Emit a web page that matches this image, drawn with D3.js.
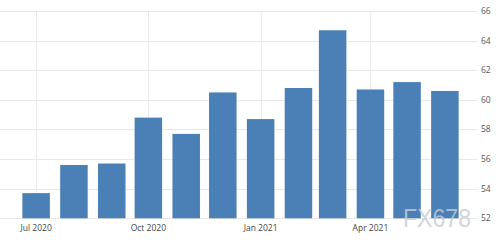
<!DOCTYPE html>
<html><head><meta charset="utf-8">
<script src="https://cdn.jsdelivr.net/npm/d3@7"></script>
<style>body{margin:0;background:#fff}svg{display:block}</style>
</head><body>
<svg id="c" width="500" height="250"></svg>
<script>
const months = ["2020-07","2020-08","2020-09","2020-10","2020-11","2020-12","2021-01","2021-02","2021-03","2021-04","2021-05","2021-06"];
const values = [53.7,55.6,55.7,58.8,57.7,60.5,58.7,60.8,64.7,60.7,61.2,60.6];
const yTicks = [52,54,56,58,60,62,64,66];
const xTickMonths = ["2020-07","2020-10","2021-01","2021-04"];
const xTickLabels = ["Jul 2020","Oct 2020","Jan 2021","Apr 2021"];

const parse = d3.timeParse("%Y-%m");
const svg = d3.select("#c");
const x = d3.scaleTime().domain([parse("2020-06"), parse("2021-07")]).range([-0.5, 481.5]);
const y = d3.scaleLinear().domain([52, 66]).range([218.3, 11]);
const plotRight = 477;
const font = "'Open Sans', 'DejaVu Sans', sans-serif";

// horizontal grid
svg.append("g").selectAll("line").data(yTicks).join("line")
  .attr("x1", 0).attr("x2", plotRight)
  .attr("y1", d => Math.round(y(d)) + 0.5).attr("y2", d => Math.round(y(d)) + 0.5)
  .attr("stroke", "#e8e8e8").attr("stroke-width", 1);
// vertical grid
svg.append("g").selectAll("line").data(xTickMonths).join("line")
  .attr("x1", d => Math.round(x(parse(d))) + 0.5).attr("x2", d => Math.round(x(parse(d))) + 0.5)
  .attr("y1", y(66)).attr("y2", y(52))
  .attr("stroke", "#e8e8e8").attr("stroke-width", 1);

// bars
const bw = 27.5;
svg.append("g").selectAll("rect").data(months).join("rect")
  .attr("x", d => x(parse(d)) - bw / 2)
  .attr("width", bw)
  .attr("y", (d, i) => y(values[i]))
  .attr("height", (d, i) => y(52) - y(values[i]))
  .attr("fill", "#4a80b6");

// y labels
svg.append("g").selectAll("text").data(yTicks).join("text")
  .attr("x", 481).attr("y", d => y(d)).attr("dy", "0.35em")
  .attr("font-family", font).attr("font-size", 8.5).attr("fill", "#555")
  .text(d => d);

// x labels
svg.append("g").selectAll("text").data(xTickMonths).join("text")
  .attr("x", d => x(parse(d))).attr("y", 230.5)
  .attr("text-anchor", "middle")
  .attr("font-family", font).attr("font-size", 8.5).attr("fill", "#444")
  .text((d, i) => xTickLabels[i]);

// watermark
svg.append("text")
  .attr("x", 403).attr("y", 227)
  .attr("font-family", "'Liberation Sans', 'DejaVu Sans', sans-serif").attr("font-size", 26)
  .attr("textLength", 68).attr("lengthAdjust", "spacingAndGlyphs")
  .attr("fill", "#c8ccd4").attr("opacity", 0.8)
  .text("FX678");
</script>
</body></html>
